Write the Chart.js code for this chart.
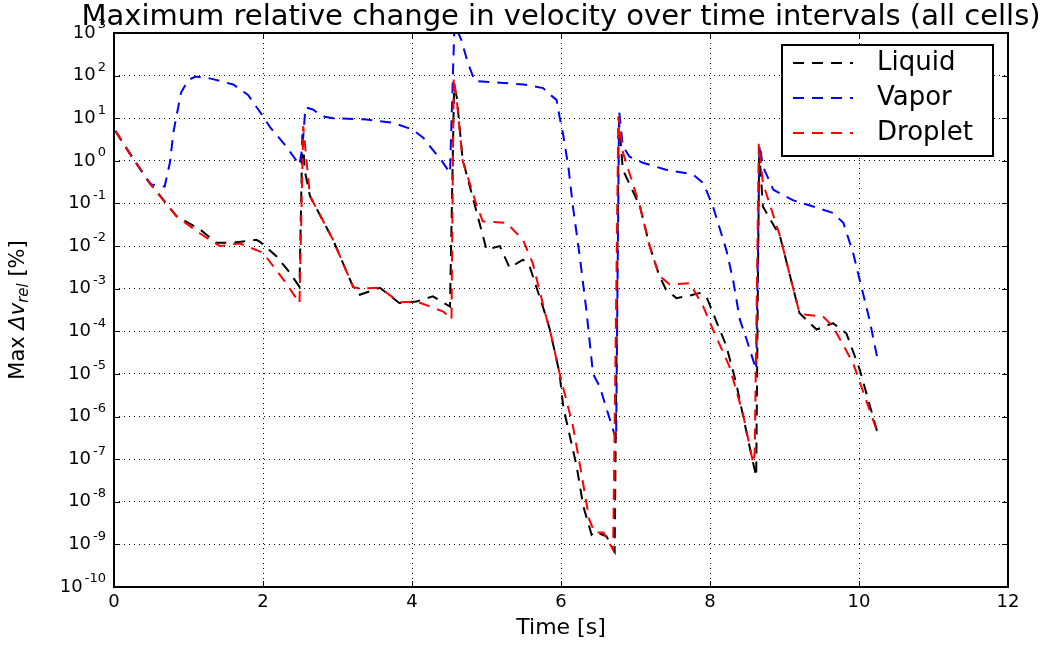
<!DOCTYPE html>
<html>
<head>
<meta charset="utf-8">
<script src="https://cdn.jsdelivr.net/npm/chart.js@4.4.0/dist/chart.umd.min.js"></script>
<style>
  body { margin: 0; background: #fff; }
  #chart { display: block; }
</style>
</head>
<body>
<canvas id="chart" width="1042" height="646"></canvas>
<script>
var seriesNames = ["Liquid", "Vapor", "Droplet"];
var seriesColors = ["#000000", "#0000ff", "#ff0000"];

// values (time in s, max relative change in %)
var liquidTime = [0.02, 0.2, 0.48, 0.84, 1.15, 1.25, 1.37, 1.6, 1.91, 1.96, 2.18, 2.35, 2.49, 2.53, 2.56, 2.63, 2.94, 3.21, 3.3, 3.57, 3.83, 4.06, 4.28, 4.51, 4.565, 4.6, 4.68, 4.86, 5.0, 5.18, 5.31, 5.49, 5.58, 5.8, 5.85, 5.98, 6.03, 6.21, 6.3, 6.41, 6.45, 6.61, 6.72, 6.775, 6.83, 7.06, 7.19, 7.32, 7.41, 7.55, 7.68, 7.86, 7.95, 8.04, 8.22, 8.35, 8.53, 8.62, 8.66, 8.71, 8.94, 9.2, 9.43, 9.65, 9.83, 10.01, 10.26];
var liquidValue = [5, 1.6, 0.3, 0.05, 0.025, 0.018, 0.012, 0.012, 0.014, 0.0126, 5.8e-3, 2.5e-3, 1.1e-3, 5, 0.6, 0.15, 0.014, 1.1e-3, 7.2e-4, 1.05e-3, 4.6e-4, 5e-4, 6.6e-4, 3.8e-4, 55, 32, 1.07, 0.07, 8.3e-3, 0.01, 3.1e-3, 4.8e-3, 3.3e-3, 2.2e-4, 1.1e-4, 1.05e-5, 1.7e-6, 6.8e-8, 7.8e-9, 1.7e-9, 2e-9, 1.55e-9, 6.8e-10, 10, 0.62, 0.085, 0.01, 2e-3, 9.5e-4, 6e-4, 6.6e-4, 7.9e-4, 6.6e-4, 2.7e-4, 4.5e-5, 6.2e-6, 2e-7, 3.9e-8, 2, 0.085, 0.017, 2.7e-4, 1.1e-4, 1.55e-4, 9e-5, 1.26e-5, 3.5e-7];

var vaporTime = [0.02, 0.2, 0.45, 0.5, 0.68, 0.75, 0.8, 0.9, 1.0, 1.1, 1.3, 1.6, 1.8, 1.96, 2.1, 2.31, 2.49, 2.53, 2.57, 2.67, 2.8, 2.94, 3.39, 3.75, 4.01, 4.15, 4.28, 4.4, 4.51, 4.55, 4.57, 4.66, 4.75, 4.84, 5.18, 5.5, 5.76, 5.86, 5.94, 5.98, 6.03, 6.1, 6.16, 6.25, 6.34, 6.43, 6.52, 6.63, 6.74, 6.78, 6.83, 6.92, 7.1, 7.41, 7.77, 7.91, 8.04, 8.22, 8.31, 8.4, 8.49, 8.62, 8.665, 8.71, 8.85, 9.11, 9.43, 9.65, 9.79, 9.92, 10.01, 10.14, 10.26];
var vaporValue = [5, 1.6, 0.35, 0.28, 0.25, 0.9, 5, 40, 80, 95, 85, 62, 35, 14, 6, 2.2, 0.8, 2.2, 18, 16, 11, 10, 9.3, 7.8, 5.4, 3.5, 1.8, 1.0, 0.52, 115, 1600, 700, 200, 75, 68, 62, 51, 35, 27, 11, 4, 0.7, 0.085, 6e-3, 3.2e-4, 1e-5, 5e-6, 1.2e-6, 2.9e-7, 15, 2.2, 1.25, 0.9, 0.62, 0.48, 0.3, 0.085, 8e-3, 1.6e-3, 1.9e-4, 6.5e-5, 1.26e-5, 2.4, 0.74, 0.21, 0.12, 0.08, 0.06, 0.035, 7e-3, 1.6e-3, 1.9e-4, 1.8e-5];

var dropletTime = [0.02, 0.2, 0.48, 0.84, 1.15, 1.42, 1.69, 2.0, 2.31, 2.49, 2.54, 2.63, 2.94, 3.21, 3.3, 3.57, 3.83, 4.06, 4.42, 4.53, 4.56, 4.6, 4.68, 4.86, 4.95, 5.27, 5.49, 5.62, 5.8, 5.85, 5.98, 6.16, 6.25, 6.38, 6.45, 6.57, 6.7, 6.77, 6.83, 7.06, 7.19, 7.32, 7.46, 7.73, 7.91, 8.04, 8.26, 8.44, 8.58, 8.6, 8.655, 8.71, 8.94, 9.2, 9.29, 9.52, 9.65, 9.92, 10.26];
var dropletValue = [5, 1.6, 0.3, 0.05, 0.02, 0.01, 0.0115, 7e-3, 1.35e-3, 4.6e-4, 6.5, 0.15, 0.014, 1.1e-3, 1e-3, 1.05e-3, 4.8e-4, 5e-4, 2.9e-4, 1.9e-4, 90, 28, 1.0, 0.1, 0.038, 0.035, 0.014, 4e-3, 2.2e-4, 1.1e-4, 1.05e-5, 6e-7, 8e-8, 3.8e-9, 1.9e-9, 1.9e-9, 7.4e-10, 11, 1.6, 0.085, 0.01, 2e-3, 1.26e-3, 1.35e-3, 3.8e-4, 1.1e-4, 1.5e-5, 1.2e-6, 8e-8, 1.4e-7, 2.5, 0.3, 0.017, 2.7e-4, 2.45e-4, 2.2e-4, 1.3e-4, 1.8e-5, 3.7e-7];

var xTicks = [0, 2, 4, 6, 8, 10, 12];
var yExponents = [3, 2, 1, 0, -1, -2, -3, -4, -5, -6, -7, -8, -9, -10];

var titleText = "Maximum relative change in velocity over time intervals (all cells)";
var xLabel = "Time [s]";

function points(t, v) {
  return t.map(function (x, i) { return { x: x, y: v[i] }; });
}

function dataset(i, t, v) {
  return {
    label: seriesNames[i],
    data: points(t, v),
    borderColor: seriesColors[i],
    backgroundColor: seriesColors[i],
    borderWidth: 2,
    borderDash: [11, 8],
    pointRadius: 0,
    tension: 0,
    fill: false,
    order: 2 - i
  };
}

var decor = {
  id: "decor",
  afterDraw: function (chart) {
    var ctx = chart.ctx, a = chart.chartArea;
    var xs = chart.scales.x, ys = chart.scales.y;
    ctx.save();
    ctx.setLineDash([]);

    // frame
    ctx.strokeStyle = "#000";
    ctx.lineWidth = 2;
    ctx.strokeRect(a.left, a.top, a.right - a.left, a.bottom - a.top);

    // inward tick marks
    ctx.lineWidth = 1;
    ctx.beginPath();
    xTicks.forEach(function (t) {
      var px = Math.round(xs.getPixelForValue(t)) + 0.5;
      ctx.moveTo(px, a.bottom); ctx.lineTo(px, a.bottom - 6);
      ctx.moveTo(px, a.top); ctx.lineTo(px, a.top + 6);
    });
    yExponents.forEach(function (e) {
      var py = Math.round(ys.getPixelForValue(Math.pow(10, e))) + 0.5;
      ctx.moveTo(a.left, py); ctx.lineTo(a.left + 6, py);
      ctx.moveTo(a.right, py); ctx.lineTo(a.right - 6, py);
    });
    ctx.stroke();

    // y tick labels 10^e
    ctx.fillStyle = "#000";
    ctx.textBaseline = "middle";
    yExponents.forEach(function (e) {
      var py = ys.getPixelForValue(Math.pow(10, e));
      var sup = String(e);
      var right = a.left - 8;
      ctx.font = "13px 'DejaVu Sans'";
      ctx.textAlign = "right";
      var supW = ctx.measureText(sup).width;
      ctx.fillText(sup, right, py - 8);
      ctx.font = "18px 'DejaVu Sans'";
      ctx.fillText("10", right - supW - 2, py);
    });

    // y axis label: Max Δv_rel [%]
    var parts = [
      { t: "Max ", f: "21px 'DejaVu Sans'", dy: 0 },
      { t: "\u0394", f: "italic 21px 'DejaVu Sans'", dy: 0 },
      { t: "v", f: "italic 21px 'DejaVu Sans'", dy: 0 },
      { t: "rel", f: "italic 15px 'DejaVu Sans'", dy: 5 },
      { t: " [%]", f: "21px 'DejaVu Sans'", dy: 0 }
    ];
    var total = 0;
    parts.forEach(function (p) { ctx.font = p.f; p.w = ctx.measureText(p.t).width; total += p.w; });
    ctx.translate(19, (a.top + a.bottom) / 2);
    ctx.rotate(-Math.PI / 2);
    ctx.textAlign = "left";
    var cx = -total / 2;
    parts.forEach(function (p) {
      ctx.font = p.f;
      ctx.fillText(p.t, cx, p.dy);
      cx += p.w;
    });
    ctx.setTransform(1, 0, 0, 1, 0, 0);

    // title
    ctx.font = "29px 'DejaVu Sans'";
    ctx.textAlign = "center";
    ctx.fillText(titleText, (a.left + a.right) / 2, 17);

    // legend
    var bx = 782, by = 45, bw = 211, bh = 111;
    ctx.fillStyle = "#fff";
    ctx.fillRect(bx, by, bw, bh);
    ctx.strokeStyle = "#000";
    ctx.lineWidth = 2;
    ctx.strokeRect(bx, by, bw, bh);
    ctx.font = "26px 'DejaVu Sans'";
    ctx.textAlign = "left";
    seriesNames.forEach(function (name, i) {
      var y = by + 18 + i * 35;
      ctx.strokeStyle = seriesColors[i];
      ctx.lineWidth = 2;
      ctx.setLineDash([11, 8]);
      ctx.beginPath();
      ctx.moveTo(793, y); ctx.lineTo(853, y);
      ctx.stroke();
      ctx.setLineDash([]);
      ctx.fillStyle = "#000";
      ctx.fillText(name, 877, y);
    });
    ctx.restore();
  }
};

new Chart("chart", {
  type: "line",
  data: {
    datasets: [
      dataset(0, liquidTime, liquidValue),
      dataset(1, vaporTime, vaporValue),
      dataset(2, dropletTime, dropletValue)
    ]
  },
  options: {
    responsive: false,
    animation: false,
    layout: { padding: { top: 33, right: 34, left: 0, bottom: 0 } },
    plugins: {
      legend: { display: false },
      tooltip: { enabled: false }
    },
    scales: {
      x: {
        type: "linear",
        min: 0,
        max: 12,
        afterBuildTicks: function (scale) {
          scale.ticks = xTicks.map(function (v) { return { value: v }; });
        },
        afterFit: function (scale) { scale.height = 59; },
        ticks: {
          color: "#000",
          padding: 5,
          maxRotation: 0,
          font: { family: "DejaVu Sans", size: 18 }
        },
        grid: { color: "#000", lineWidth: 1, drawTicks: false },
        border: { display: false, dash: [1, 4] },
        title: {
          display: true,
          text: xLabel,
          color: "#000",
          padding: { top: 0, bottom: 5 },
          font: { family: "DejaVu Sans", size: 22 }
        }
      },
      y: {
        type: "logarithmic",
        min: 1e-10,
        max: 1e3,
        afterBuildTicks: function (scale) {
          scale.ticks = yExponents.map(function (e) { return { value: Math.pow(10, e) }; });
        },
        afterFit: function (scale) { scale.width = 114; },
        ticks: { display: false },
        grid: { color: "#000", lineWidth: 1, drawTicks: false },
        border: { display: false, dash: [1, 4] }
      }
    }
  },
  plugins: [decor]
});
</script>
</body>
</html>
